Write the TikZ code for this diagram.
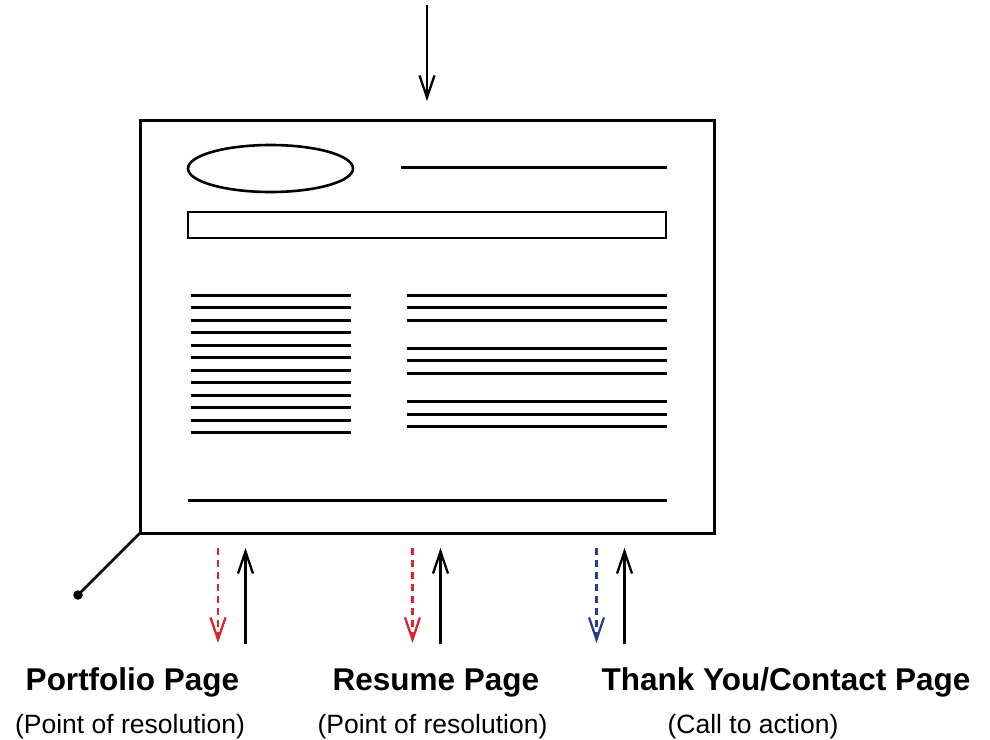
\documentclass[tikz,border=0pt]{standalone}
\usepackage{fontspec}
\setmainfont{Liberation Sans}
\usetikzlibrary{arrows.meta,shapes.geometric}
\definecolor{dred}{RGB}{214,40,44}
\definecolor{dblue}{RGB}{40,60,150}
\begin{document}
\begin{tikzpicture}[x=1pt,y=-1pt,
  frame/.style={draw, line width=3pt, inner sep=0pt, outer sep=0pt},
  textline/.style={line width=3pt},
  arr/.style={line width=2.3pt, -{Straight Barb[length=22pt,width=15pt]}},
  dash red/.style={arr, dred, dash pattern=on 7pt off 5pt},
  dash blue/.style={arr, dblue, dash pattern=on 7pt off 5pt},
  title/.style={anchor=base, font=\bfseries\fontsize{31.5}{36}\selectfont},
  sub/.style={anchor=base, font=\fontsize{26.5}{30}\selectfont}]
\useasboundingbox (0,0) rectangle (990,739);
% page
\node[frame, minimum width=574pt, minimum height=413pt] (page) at (427,326.5) {};
\node[frame, line width=2.6pt, ellipse, minimum width=165pt, minimum height=47pt] (logo) at (270.5,168.5) {};
\draw[textline] (401,167) -- (667,167);
\node[frame, line width=2.6pt, minimum width=478pt, minimum height=26pt] (bar) at (427,225) {};
\foreach \i in {0,...,11} {
  \draw[textline] (190.5,295+12.5*\i) -- (351,295+12.5*\i);
}
\foreach \g in {0,1,2} {
  \foreach \j in {0,1,2} {
    \draw[textline] (406.5,295+53.3*\g+12.5*\j) -- (667,295+53.3*\g+12.5*\j);
  }
}
\draw[textline] (188,500) -- (667,500);
% dot
\node[circle, fill, inner sep=0pt, minimum size=9.5pt] (dot) at (78,595) {};
\draw[line width=2.6pt] (page.south west) -- (dot.center);
% top arrow
\coordinate (in) at (427,5);
\coordinate (intip) at (427,101);
\draw[arr] (in) -- (intip);
% bottom arrows
\coordinate (a1) at (218,548); \coordinate (a1e) at (218,643);
\coordinate (b1) at (245.5,644); \coordinate (b1e) at (245.5,548);
\coordinate (a2) at (412.5,548); \coordinate (a2e) at (412.5,643);
\coordinate (b2) at (440.5,644); \coordinate (b2e) at (440.5,548);
\coordinate (a3) at (596.5,548); \coordinate (a3e) at (596.5,643);
\coordinate (b3) at (624.5,644); \coordinate (b3e) at (624.5,548);
\draw[dash red] (a1) -- (a1e);
\draw[arr] (b1) -- (b1e);
\draw[dash red] (a2) -- (a2e);
\draw[arr] (b2) -- (b2e);
\draw[dash blue] (a3) -- (a3e);
\draw[arr] (b3) -- (b3e);
% labels
\node[title] (t1) at (132.5,690) {Portfolio Page};
\node[sub] (s1) at (130,733) {(Point of resolution)};
\node[title] (t2) at (436,690) {Resume Page};
\node[sub] (s2) at (432.5,733) {(Point of resolution)};
\node[title] (t3) at (786,690) {Thank You/Contact Page};
\node[sub] (s3) at (753,733) {(Call to action)};
\end{tikzpicture}
\end{document}
